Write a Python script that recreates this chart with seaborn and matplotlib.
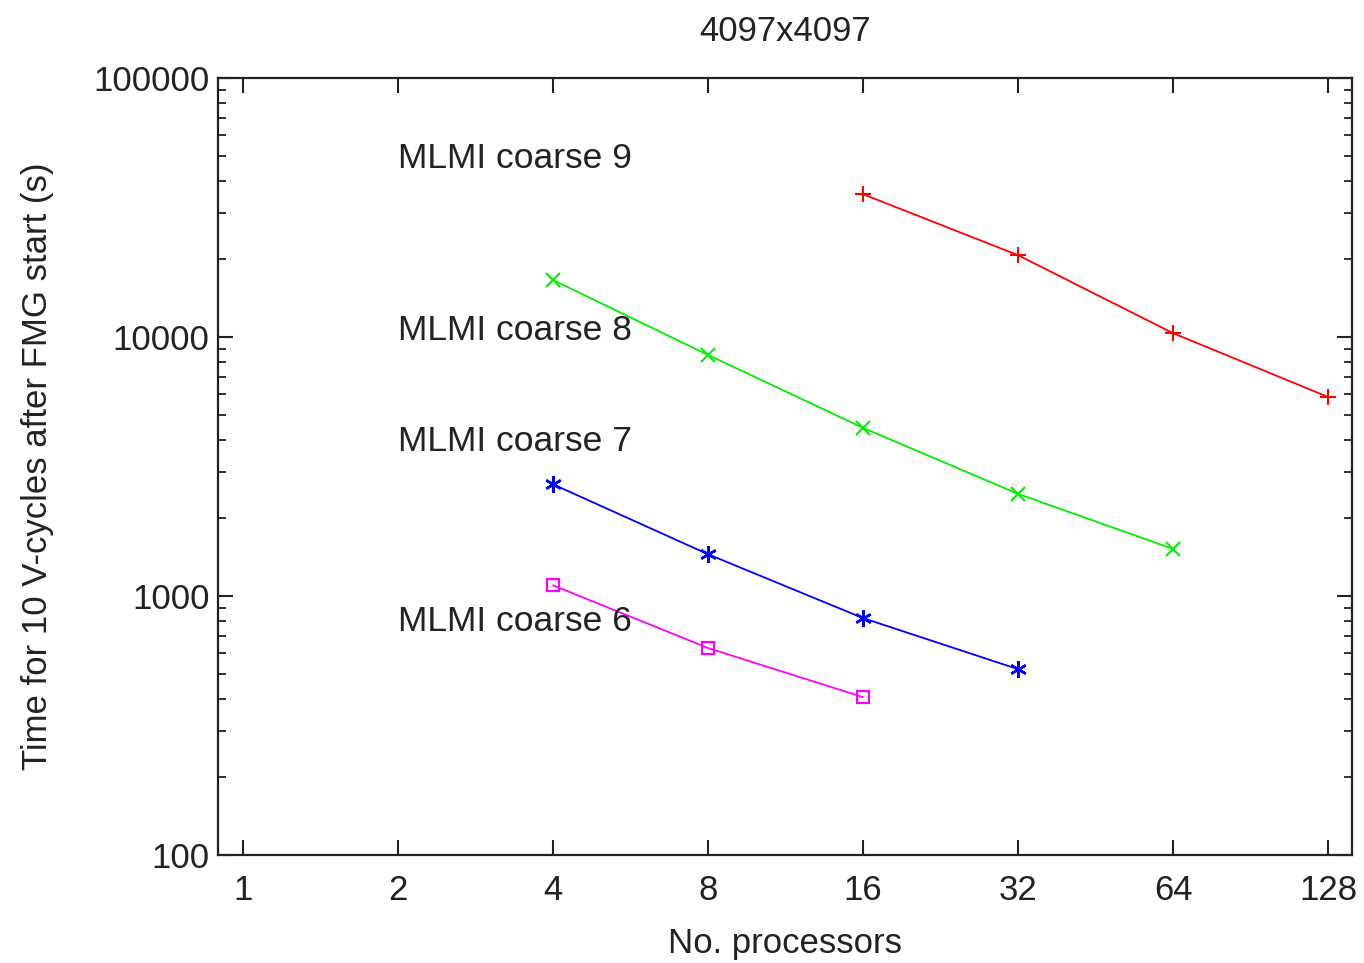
import matplotlib
matplotlib.use("Agg")
import matplotlib.pyplot as plt
import matplotlib.ticker as mticker
import seaborn as sns
import pandas as pd

# ---- data ----
procs_9 = [16, 32, 64, 128]
time_9 = [35600, 20700, 10350, 5870]
procs_8 = [4, 8, 16, 32, 64]
time_8 = [16600, 8530, 4460, 2480, 1520]
procs_7 = [4, 8, 16, 32]
time_7 = [2700, 1450, 822, 522]
procs_6 = [4, 8, 16]
time_6 = [1100, 630, 407]
series_names = ["MLMI coarse 9", "MLMI coarse 8", "MLMI coarse 7", "MLMI coarse 6"]
label_y = [49100, 10550, 3960, 800]
x_ticks = [1, 2, 4, 8, 16, 32, 64, 128]
y_ticks = [100, 1000, 10000, 100000]

sns.set_style("ticks")
plt.rcParams['font.family'] = ['Liberation Sans', 'DejaVu Sans']

fig = plt.figure(figsize=(13.64, 9.63), dpi=100)
ax = fig.add_axes([0.1598, 0.1121, 0.9912 - 0.1598, 0.919 - 0.1121])

colors = ["#ff0000", "#00ee00", "#0000ff", "#ff00ff"]
styles = [
    dict(marker="+", markersize=12, mew=1.5),
    dict(marker="x", markersize=10, mew=1.5),
    dict(marker=(6, 2, 0), markersize=12, mew=1.8),
    dict(marker="s", markersize=9, mew=1.6, markerfacecolor="none"),
]
data = [(procs_9, time_9), (procs_8, time_8), (procs_7, time_7), (procs_6, time_6)]
for (xs, ys), name, col, st in zip(data, series_names, colors, styles):
    df = pd.DataFrame({"x": xs, "y": ys})
    sns.lineplot(data=df, x="x", y="y", ax=ax, linewidth=1.3, legend=False,
                 color=col, markeredgecolor=col, **st)

ax.set_xscale("log", base=2)
ax.set_yscale("log")
ax.set_xlim(0.894, 142.5)
ax.set_ylim(100, 100000)
ax.set_xticks(x_ticks)
ax.xaxis.set_major_formatter(mticker.FuncFormatter(lambda v, p: f"{int(round(v))}"))
ax.xaxis.set_minor_locator(mticker.NullLocator())
ax.set_yticks(y_ticks)
ax.yaxis.set_major_formatter(mticker.FuncFormatter(lambda v, p: f"{int(round(v))}"))
ax.yaxis.set_minor_locator(mticker.LogLocator(base=10, subs=range(2, 10)))
ax.yaxis.set_minor_formatter(mticker.NullFormatter())

for sp in ax.spines.values():
    sp.set_visible(True)
    sp.set_linewidth(1.6)
    sp.set_color("#222222")
ax.tick_params(which="major", direction="in", length=11, width=1.5, top=True, right=True,
               labelsize=25, colors="#222222")
ax.tick_params(axis="x", which="major", pad=14)
ax.tick_params(axis="y", which="major", pad=6)
ax.tick_params(which="minor", direction="in", length=6, width=1.3, right=True,
               colors="#222222")
ax.tick_params(axis="x", which="minor", top=False, bottom=False)

for name, ly in zip(series_names, label_y):
    ax.text(2, ly, name, fontsize=25.5, ha="left", va="center", color="#222222")

ax.set_title("4097x4097", fontsize=25, pad=27, color="#222222")
ax.set_xlabel("No. processors", fontsize=25, labelpad=14, color="#222222")
ax.set_ylabel("Time for 10 V-cycles after FMG start (s)", fontsize=25, labelpad=28, color="#222222")

fig.savefig("out.png", dpi=100)
